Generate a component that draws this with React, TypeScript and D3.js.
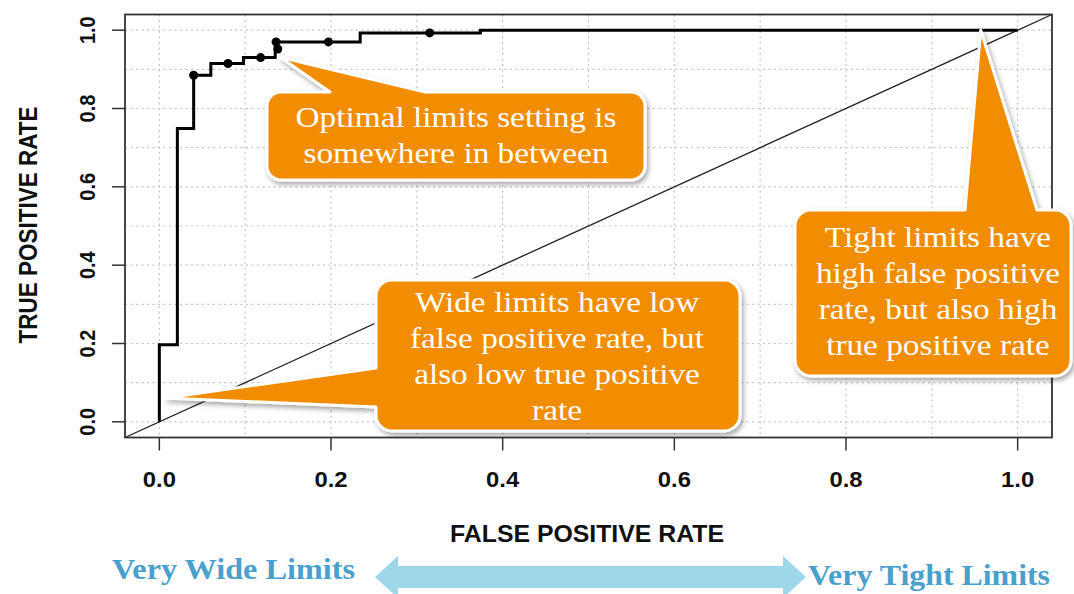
import React from "react";
import * as d3 from "d3";

// ---- data ----
const ROC_FPR = [0, 0, 0.021, 0.04, 0.06, 0.098, 0.135, 0.234, 0.374, 1.0];
const ROC_TPR = [0, 0.197, 0.749, 0.885, 0.915, 0.93, 0.97, 0.993, 1.0, 1.0];
const CUT_FPR = [0.04, 0.08, 0.118, 0.136, 0.138, 0.197, 0.315];
const CUT_TPR = [0.885, 0.915, 0.93, 0.97, 0.952, 0.97, 0.993];
const X_TICKS = [0, 0.2, 0.4, 0.6, 0.8, 1.0];
const Y_TICKS = [0, 0.2, 0.4, 0.6, 0.8, 1.0];
const GRID = [0, 0.1, 0.2, 0.3, 0.4, 0.5, 0.6, 0.7, 0.8, 0.9, 1.0];
const X_TITLE = "FALSE POSITIVE RATE";
const Y_TITLE = "TRUE POSITIVE RATE";
const CALLOUT_OPTIMAL = ["Optimal limits setting is", "somewhere in between"];
const CALLOUT_WIDE = ["Wide limits have low", "false positive rate, but", "also low true positive", "rate"];
const CALLOUT_TIGHT = ["Tight limits have", "high false positive", "rate, but also high", "true positive rate"];
const LEFT_LABEL = "Very Wide Limits";
const RIGHT_LABEL = "Very Tight Limits";

const W = 1074;
const H = 594;
const ORANGE = "#F28C00";
const SX = 1.11; // horizontal stretch of the reference image

type Box = { x0: number; y0: number; x1: number; y1: number; r: number };

function calloutPath(b: Box, tip: [number, number], side: "top" | "left", a: number, c: number) {
  const { x0, y0, x1, y1, r } = b;
  let p = `M${x0 + r},${y0}`;
  if (side === "top") p += ` L${a},${y0} L${tip[0]},${tip[1]} L${c},${y0}`;
  p += ` L${x1 - r},${y0} A${r},${r} 0 0 1 ${x1},${y0 + r}`;
  p += ` L${x1},${y1 - r} A${r},${r} 0 0 1 ${x1 - r},${y1}`;
  p += ` L${x0 + r},${y1} A${r},${r} 0 0 1 ${x0},${y1 - r}`;
  if (side === "left") p += ` L${x0},${c} L${tip[0]},${tip[1]} L${x0},${a}`;
  p += ` L${x0},${y0 + r} A${r},${r} 0 0 1 ${x0 + r},${y0} Z`;
  return p;
}

function Callout({ b, tip, side, a, c, lines, cx, firstY, lh }: any) {
  return (
    <g>
      <path
        d={calloutPath(b, tip, side, a, c)}
        fill={ORANGE}
        stroke="#fff"
        strokeWidth={3}
        strokeLinejoin="round"
        filter="url(#shadow)"
      />
      {lines.map((t: string, i: number) => (
        <text
          key={i}
          transform={`translate(${cx},${firstY + i * lh}) scale(${SX},1)`}
          textAnchor="middle"
          fill="#fff"
          fontFamily="'Liberation Serif', serif"
          fontSize={30}
        >
          {t}
        </text>
      ))}
    </g>
  );
}

export default function App() {
  const x = d3.scaleLinear().domain([-0.04, 1.04]).range([125, 1052]);
  const y = d3.scaleLinear().domain([-0.04, 1.04]).range([437.5, 14.5]);

  const rocPts: [number, number][] = ROC_FPR.map((f, i) => [f, ROC_TPR[i]]);
  const line = d3
    .line<[number, number]>()
    .x((d) => x(d[0]))
    .y((d) => y(d[1]))
    .curve(d3.curveStepAfter);

  const fmt = d3.format(".1f");
  const [bx0, bx1] = x.range();
  const [by0, by1] = [y(1.04), y(-0.04)];

  return (
    <svg
      width={W}
      height={H}
      style={{ position: "absolute", left: 0, top: 0, background: "#fff" }}
    >
      <defs>
        <filter id="shadow" x="-20%" y="-20%" width="140%" height="140%">
          <feDropShadow dx={2} dy={3} stdDeviation={2.5} floodColor="#000" floodOpacity={0.35} />
        </filter>
      </defs>
      <rect x={0} y={0} width={W} height={H} fill="#fff" />

      {/* grid */}
      <g stroke="#c4c4c4" strokeWidth={1.2} strokeDasharray="2,3.5">
        {GRID.map((g) => (
          <line key={"vx" + g} x1={x(g)} x2={x(g)} y1={by0} y2={by1} />
        ))}
        {GRID.map((g) => (
          <line key={"hy" + g} x1={bx0} x2={bx1} y1={y(g)} y2={y(g)} />
        ))}
      </g>

      {/* diagonal */}
      <line
        x1={x(-0.04)}
        y1={y(-0.04)}
        x2={x(1.04)}
        y2={y(1.04)}
        stroke="#222"
        strokeWidth={1.3}
      />
      {/* ROC */}
      <path d={line(rocPts) || ""} fill="none" stroke="#000" strokeWidth={3} />
      {CUT_FPR.map((f, i) => (
        <circle key={i} cx={x(f)} cy={y(CUT_TPR[i])} r={4.5} fill="#000" />
      ))}

      {/* box */}
      <rect
        x={bx0}
        y={by0}
        width={bx1 - bx0}
        height={by1 - by0}
        fill="none"
        stroke="#333"
        strokeWidth={1.8}
      />

      {/* ticks */}
      <g stroke="#333" strokeWidth={1.5}>
        {X_TICKS.map((t) => (
          <line key={"xt" + t} x1={x(t)} x2={x(t)} y1={by1} y2={by1 + 13} />
        ))}
        {Y_TICKS.map((t) => (
          <line key={"yt" + t} x1={bx0} x2={bx0 - 13} y1={y(t)} y2={y(t)} />
        ))}
      </g>
      <g fontFamily="'Liberation Sans', Arial, sans-serif" fontWeight="bold" fill="#111">
        {X_TICKS.map((t) => (
          <text
            key={"xl" + t}
            transform={`translate(${x(t)},487) scale(${SX},1)`}
            textAnchor="middle"
            fontSize={21.5}
          >
            {fmt(t)}
          </text>
        ))}
        {Y_TICKS.map((t) => (
          <text
            key={"yl" + t}
            transform={`translate(95,${y(t)}) scale(${SX},1) rotate(-90)`}
            textAnchor="middle"
            fontSize={20}
          >
            {fmt(t)}
          </text>
        ))}
        <text x={587} y={542} textAnchor="middle" fontSize={24.5} textLength={274} lengthAdjust="spacingAndGlyphs">
          {X_TITLE}
        </text>
        <text transform={`translate(37,225) scale(${SX},1) rotate(-90)`} textAnchor="middle" fontSize={22.5}>
          {Y_TITLE}
        </text>
      </g>

      {/* callouts */}
      <Callout
        b={{ x0: 267, y0: 92, x1: 645, y1: 180, r: 14 }}
        tip={[x(0.141), y(0.931)]}
        side="top"
        a={330}
        c={425}
        lines={CALLOUT_OPTIMAL}
        cx={456}
        firstY={127}
        lh={35.5}
      />
      <Callout
        b={{ x0: 376, y0: 280, x1: 740, y1: 431, r: 16 }}
        tip={[x(0.007), y(0.061)]}
        side="left"
        a={368}
        c={407}
        lines={CALLOUT_WIDE}
        cx={557}
        firstY={312}
        lh={36}
      />
      <Callout
        b={{ x0: 795, y0: 210, x1: 1071, y1: 376, r: 16 }}
        tip={[x(0.957), y(1.0)]}
        side="top"
        a={965}
        c={1037}
        lines={CALLOUT_TIGHT}
        cx={938}
        firstY={247}
        lh={36}
      />

      {/* bottom arrow */}
      <path
        d={`M375,577 L398,556 L398,566 L783,566 L783,556 L806,577 L783,598 L783,588 L398,588 L398,598 Z`}
        fill="#9ED6EA"
      />
      <g fontFamily="'Liberation Serif', serif" fontWeight="bold" fill="#4AA0CC" fontSize={28.5}>
        <text x={112} y={579} textLength={243} lengthAdjust="spacingAndGlyphs">
          {LEFT_LABEL}
        </text>
        <text x={808} y={585} textLength={242} lengthAdjust="spacingAndGlyphs">
          {RIGHT_LABEL}
        </text>
      </g>
    </svg>
  );
}
